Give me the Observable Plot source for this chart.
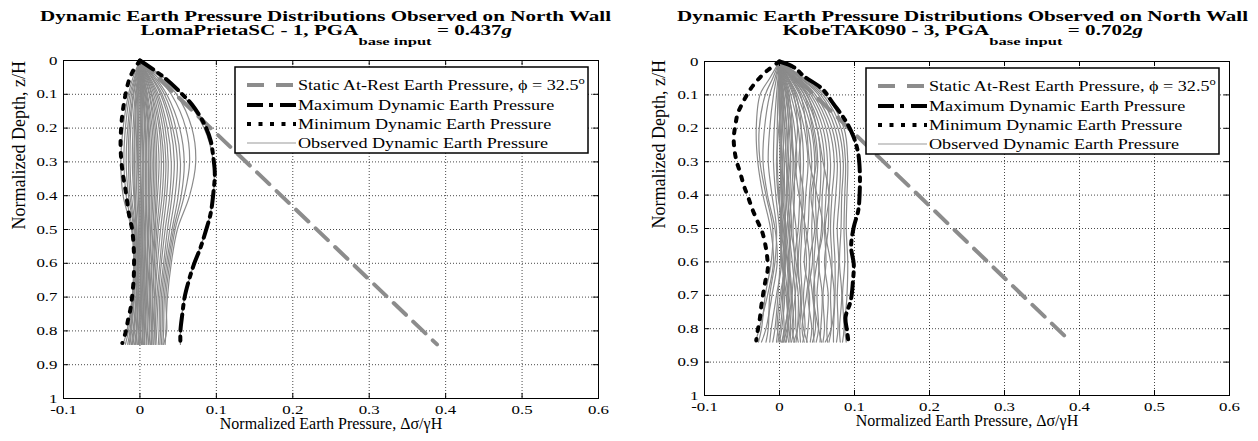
<!DOCTYPE html>
<html><head><meta charset="utf-8">
<script src="https://cdn.jsdelivr.net/npm/d3@7"></script>
<script src="https://cdn.jsdelivr.net/npm/@observablehq/plot@0.6"></script>
<style>
html,body{margin:0;padding:0;background:#fff;}
#root{position:relative;width:1258px;height:441px;overflow:hidden;font-family:"Liberation Serif","Times New Roman",Times,serif;color:#000;}
#root svg, #root svg text{font-family:"Liberation Serif","Times New Roman",Times,serif !important;}
.panel{position:absolute;top:0;}
.title{position:relative;height:38px;}
.tline{position:absolute;white-space:nowrap;font-weight:bold;font-size:14px;line-height:14px;transform-origin:50% 50%;}
.sub{font-size:11px;vertical-align:-10px;}
.panel svg{display:block;}
</style></head><body><div id="root"></div><script>
// ---------- data ----------
const xTicks = [-0.1, 0, 0.1, 0.2, 0.3, 0.4, 0.5, 0.6];
const xTickLabels = ["-0.1", "0", "0.1", "0.2", "0.3", "0.4", "0.5", "0.6"];
const yTicks = [0, 0.1, 0.2, 0.3, 0.4, 0.5, 0.6, 0.7, 0.8, 0.9, 1];
const yTickLabels = ["0", "0.1", "0.2", "0.3", "0.4", "0.5", "0.6", "0.7", "0.8", "0.9", "1"];
const titleLine1 = "Dynamic Earth Pressure Distributions Observed on North Wall";
const records = ["LomaPrietaSC - 1", "KobeTAK090 - 3"];
const pgaValues = ["0.437", "0.702"];
const xAxisLabel = "Normalized Earth Pressure, Δσ/γH";
const yAxisLabel = "Normalized Depth, z/H";
const legendLabels = ["Static At-Rest Earth Pressure, ϕ = 32.5", "Maximum Dynamic Earth Pressure", "Minimum Dynamic Earth Pressure", "Observed Dynamic Earth Pressure"];

// depth levels at which observed profiles are read
const depthLevels = [0, 0.05, 0.1, 0.2, 0.3, 0.4, 0.5, 0.6, 0.7, 0.8, 0.84];

// static at-rest line (both panels)
const staticDepth = [0, 0.84];
const staticPressure = [0, 0.3887];

// ---- left panel (LomaPrietaSC - 1) ----
const leftObserved = [
  [0,-0.009,-0.015,-0.022,-0.025,-0.022,-0.011,-0.008,-0.010,-0.017,-0.022],
  [0,-0.007,-0.013,-0.019,-0.021,-0.018,-0.010,-0.008,-0.010,-0.015,-0.019],
  [0,-0.006,-0.011,-0.016,-0.018,-0.015,-0.008,-0.007,-0.009,-0.013,-0.016],
  [0,-0.005,-0.009,-0.014,-0.015,-0.013,-0.007,-0.006,-0.008,-0.012,-0.014],
  [0,-0.004,-0.008,-0.012,-0.013,-0.011,-0.006,-0.005,-0.007,-0.011,-0.013],
  [0,-0.003,-0.006,-0.009,-0.010,-0.008,-0.005,-0.004,-0.005,-0.009,-0.011],
  [0,-0.002,-0.005,-0.007,-0.008,-0.007,-0.004,-0.003,-0.005,-0.008,-0.010],
  [0,-0.002,-0.004,-0.006,-0.007,-0.006,-0.004,-0.003,-0.004,-0.007,-0.009],
  [0,-0.001,-0.003,-0.004,-0.005,-0.004,-0.002,-0.002,-0.003,-0.005,-0.007],
  [0,-0.001,-0.002,-0.003,-0.003,-0.002,-0.001,-0.001,-0.002,-0.004,-0.006],
  [0,-0.001,-0.001,-0.002,-0.002,-0.001,0.000,-0.001,-0.002,-0.004,-0.005],
  [0,0.000,0.000,0.000,0.000,0.001,0.001,0.001,0.000,-0.002,-0.003],
  [0,0.000,0.001,0.001,0.001,0.002,0.002,0.001,0.000,-0.001,-0.002],
  [0,0.001,0.001,0.002,0.003,0.003,0.003,0.002,0.001,0.000,-0.001],
  [0,0.001,0.002,0.003,0.004,0.004,0.004,0.003,0.002,0.001,0.000],
  [0,0.001,0.003,0.004,0.005,0.005,0.004,0.004,0.003,0.001,0.000],
  [0,0.002,0.004,0.006,0.007,0.007,0.006,0.005,0.004,0.003,0.002],
  [0,0.002,0.004,0.007,0.008,0.008,0.007,0.006,0.005,0.004,0.003],
  [0,0.003,0.005,0.008,0.009,0.009,0.008,0.007,0.006,0.004,0.003],
  [0,0.003,0.006,0.010,0.011,0.011,0.010,0.009,0.007,0.006,0.005],
  [0,0.004,0.007,0.011,0.012,0.012,0.011,0.009,0.008,0.006,0.005],
  [0,0.004,0.008,0.012,0.014,0.013,0.012,0.010,0.009,0.007,0.006],
  [0,0.005,0.009,0.014,0.016,0.015,0.014,0.012,0.010,0.009,0.008],
  [0,0.005,0.010,0.016,0.018,0.017,0.015,0.013,0.012,0.010,0.009],
  [0,0.006,0.012,0.018,0.020,0.019,0.017,0.015,0.013,0.012,0.011],
  [0,0.007,0.013,0.020,0.022,0.021,0.019,0.016,0.014,0.013,0.012],
  [0,0.008,0.015,0.022,0.025,0.023,0.020,0.018,0.016,0.015,0.014],
  [0,0.009,0.016,0.025,0.028,0.026,0.022,0.019,0.017,0.016,0.015],
  [0,0.010,0.018,0.027,0.031,0.029,0.024,0.021,0.019,0.017,0.017],
  [0,0.011,0.020,0.030,0.034,0.032,0.027,0.023,0.020,0.019,0.018],
  [0,0.012,0.022,0.033,0.037,0.035,0.030,0.026,0.022,0.020,0.020],
  [0,0.013,0.024,0.036,0.041,0.039,0.033,0.028,0.024,0.022,0.021],
  [0,0.015,0.027,0.040,0.045,0.042,0.036,0.031,0.026,0.025,0.024],
  [0,0.016,0.029,0.043,0.049,0.046,0.039,0.033,0.028,0.027,0.026],
  [0,0.018,0.032,0.047,0.053,0.050,0.042,0.035,0.030,0.029,0.028],
  [0,0.020,0.035,0.052,0.058,0.054,0.044,0.037,0.032,0.031,0.030],
  [0,0.023,0.041,0.060,0.065,0.058,0.046,0.039,0.034,0.035,0.031],
  [0,0.027,0.048,0.068,0.073,0.065,0.049,0.041,0.036,0.034,0.033],
  [0,0.031,0.055,0.084,0.096,0.096,0.087,0.071,0.0585,0.053,0.053]
];
const leftMaxDepth = [0,0.049,0.099,0.133,0.187,0.237,0.286,0.335,0.394,0.453,0.498,0.552,0.601,0.651,0.70,0.75,0.80,0.84];
const leftMaxPressure = [0,0.031,0.055,0.069,0.084,0.0925,0.096,0.098,0.096,0.0925,0.087,0.0795,0.071,0.064,0.0585,0.0555,0.053,0.053];
const leftMinDepth = [0,0.035,0.069,0.128,0.182,0.256,0.325,0.385,0.454,0.503,0.572,0.621,0.66,0.73,0.769,0.804,0.836];
const leftMinPressure = [0,-0.010,-0.0157,-0.021,-0.024,-0.0253,-0.023,-0.0187,-0.0144,-0.010,-0.0078,-0.0078,-0.0086,-0.012,-0.0157,-0.0187,-0.023];

// ---- right panel (KobeTAK090 - 3) ----
const rightObserved = [
  [0,-0.013,-0.026,-0.031,-0.029,-0.022,-0.012,-0.008,-0.016,-0.027,-0.032],
  [0,-0.009,-0.019,-0.027,-0.026,-0.018,-0.009,-0.011,-0.019,-0.024,-0.028],
  [0,-0.006,-0.013,-0.020,-0.022,-0.016,-0.006,-0.003,-0.010,-0.018,-0.024],
  [0,-0.004,-0.008,-0.013,-0.015,-0.010,-0.004,-0.006,-0.013,-0.015,-0.018],
  [0,-0.002,-0.004,-0.007,-0.008,-0.005,0.000,0.003,-0.004,-0.011,-0.013],
  [0,-0.001,-0.002,-0.003,-0.003,-0.001,0.003,0.001,-0.002,-0.006,-0.009],
  [0,0.000,0.000,0.000,0.001,0.002,0.004,0.006,0.003,-0.002,-0.004],
  [0,0.001,0.001,0.002,0.003,0.005,0.002,0.004,0.007,0.003,0.000],
  [0,0.001,0.002,0.004,0.006,0.007,0.008,0.006,0.004,0.006,0.003],
  [0,0.002,0.004,0.007,0.009,0.010,0.006,0.010,0.012,0.008,0.006],
  [0,0.003,0.006,0.010,0.012,0.009,0.012,0.014,0.010,0.012,0.009],
  [0,0.004,0.008,0.013,0.015,0.014,0.016,0.012,0.016,0.014,0.012],
  [0,0.005,0.010,0.016,0.019,0.020,0.018,0.020,0.017,0.019,0.016],
  [0,0.006,0.012,0.020,0.023,0.018,0.022,0.024,0.021,0.017,0.020],
  [0,0.008,0.015,0.025,0.028,0.027,0.025,0.020,0.025,0.024,0.022],
  [0,0.009,0.018,0.029,0.032,0.030,0.030,0.028,0.030,0.027,0.028],
  [0,0.011,0.021,0.033,0.038,0.035,0.033,0.036,0.032,0.034,0.031],
  [0,0.012,0.024,0.038,0.043,0.040,0.038,0.033,0.040,0.038,0.036],
  [0,0.014,0.027,0.042,0.047,0.045,0.043,0.044,0.038,0.043,0.041],
  [0,0.016,0.030,0.046,0.051,0.048,0.049,0.046,0.047,0.045,0.046],
  [0,0.017,0.033,0.050,0.055,0.054,0.050,0.053,0.050,0.052,0.049],
  [0,0.019,0.036,0.054,0.060,0.057,0.056,0.052,0.057,0.055,0.054],
  [0,0.021,0.039,0.058,0.064,0.062,0.060,0.062,0.058,0.060,0.058],
  [0,0.022,0.042,0.062,0.068,0.066,0.065,0.060,0.065,0.063,0.064],
  [0,0.024,0.045,0.066,0.073,0.070,0.068,0.070,0.068,0.069,0.066],
  [0,0.026,0.048,0.070,0.077,0.075,0.072,0.074,0.074,0.072,0.072],
  [0,0.028,0.052,0.074,0.081,0.080,0.077,0.079,0.077,0.078,0.076],
  [0,0.029,0.055,0.078,0.085,0.083,0.082,0.080,0.083,0.080,0.081],
  [0,0.031,0.058,0.082,0.088,0.087,0.086,0.087,0.084,0.086,0.084],
  [0,0.033,0.061,0.086,0.091,0.090,0.089,0.091,0.090,0.087,0.089],
  [0,0.003,0.005,0.003,0.001,0.004,0.009,0.013,0.016,0.010,0.005],
  [0,0.002,0.003,-0.001,-0.004,-0.002,0.005,0.008,0.001,-0.003,0.002],
  [0,0.007,0.013,0.017,0.014,0.011,0.015,0.022,0.028,0.024,0.019],
  [0,0.010,0.019,0.024,0.021,0.026,0.035,0.040,0.036,0.030,0.033],
  [0,0.015,0.028,0.036,0.040,0.050,0.058,0.050,0.045,0.052,0.056],
  [0,0.020,0.037,0.050,0.058,0.066,0.061,0.068,0.073,0.069,0.061],
  [0,0.001,0.003,0.006,0.004,0.000,0.002,0.007,0.005,0.001,-0.002],
  [0,0.002,0.005,0.009,0.007,0.004,0.001,0.003,0.009,0.011,0.008],
  [0,0.004,0.009,0.012,0.010,0.013,0.010,0.007,0.011,0.015,0.014],
  [0,0.000,-0.001,0.001,0.004,0.003,0.007,0.011,0.014,0.007,0.004],
  [0,0.006,0.011,0.015,0.018,0.016,0.013,0.017,0.021,0.022,0.025],
  [0,0.012,0.022,0.029,0.026,0.032,0.028,0.025,0.028,0.032,0.037],
  [0,0.018,0.033,0.044,0.049,0.042,0.047,0.040,0.044,0.048,0.044]
];
const rightMaxDepth = [0,0.017,0.045,0.082,0.127,0.177,0.227,0.276,0.326,0.386,0.446,0.496,0.556,0.606,0.656,0.716,0.766,0.805,0.84];
const rightMaxPressure = [0,0.019,0.033,0.057,0.072,0.088,0.099,0.105,0.107,0.107,0.105,0.099,0.0955,0.099,0.098,0.095,0.088,0.090,0.092];
const rightMinDepth = [0,0.029,0.055,0.087,0.119,0.155,0.189,0.229,0.265,0.298,0.336,0.371,0.406,0.441,0.476,0.511,0.551,0.586,0.621,0.656,0.696,0.736,0.771,0.805,0.835];
const rightMinPressure = [0,-0.0173,-0.029,-0.040,-0.048,-0.0556,-0.0587,-0.061,-0.060,-0.0573,-0.052,-0.0476,-0.0418,-0.0364,-0.0298,-0.023,-0.0187,-0.0164,-0.0156,-0.0187,-0.0218,-0.0245,-0.0263,-0.029,-0.031];

// ---------- drawing ----------
const root = document.getElementById("root");
const FONT = '"Liberation Serif","Times New Roman",Times,serif';

function panel(cfg) {
  const div = document.createElement("div");
  div.className = "panel";
  div.style.left = cfg.left + "px";
  div.style.width = cfg.width + "px";
  root.appendChild(div);

  // title (two lines, above the svg)
  const title = document.createElement("div");
  title.className = "title";
  div.appendChild(title);
  const l1 = document.createElement("div");
  l1.className = "tline"; l1.textContent = titleLine1; l1.style.top = "10px";
  const l2 = document.createElement("div");
  l2.className = "tline"; l2.style.top = "23.5px";
  l2.innerHTML = `${cfg.record}, PGA<span class="sub">base input</span> = ${cfg.pga}<i>g</i>`;
  title.append(l1, l2);
  const ts = 571 / l1.getBoundingClientRect().width;
  for (const l of [l1, l2]) {
    const w = l.getBoundingClientRect().width;
    l.style.left = (cfg.titleCx - cfg.left - w / 2) + "px";
    l.style.transform = `scaleX(${ts})`;
  }

  const obsData = cfg.observed.flatMap((xs, k) => xs.map((x, j) => ({curve: k, x, z: depthLevels[j]})));
  const staticData = staticDepth.map((z, i) => ({z, x: staticPressure[i]}));
  const maxData = cfg.maxZ.map((z, i) => ({z, x: cfg.maxX[i]}));
  const minData = cfg.minZ.map((z, i) => ({z, x: cfg.minX[i]}));

  const svg = Plot.plot({
    width: cfg.width, height: 403,
    marginLeft: cfg.mL, marginRight: cfg.mR, marginTop: cfg.mT, marginBottom: cfg.mB,
    x: {domain: [-0.1, 0.6]},
    y: {domain: [0, 1], reverse: true},
    style: {fontFamily: FONT, fontSize: "12px", color: "#000", background: "transparent", overflow: "visible"},
    marks: [
      Plot.gridX(xTicks, {stroke: "#000", strokeOpacity: 0.9, strokeWidth: 0.8, strokeDasharray: "1,2"}),
      Plot.gridY(yTicks, {stroke: "#000", strokeOpacity: 0.9, strokeWidth: 0.8, strokeDasharray: "1,2"}),
      Plot.line(obsData, {x: "x", y: "z", z: "curve", stroke: "#8a8a8a", strokeWidth: 1.2, curve: "catmull-rom"}),
      Plot.line(staticData, {x: "x", y: "z", stroke: "#8c8c8c", strokeWidth: 4, strokeDasharray: "17,10"}),
      Plot.line(maxData, {x: "x", y: "z", stroke: "#000", strokeWidth: 4, strokeDasharray: "16,6,4,6", curve: "catmull-rom"}),
      Plot.line(minData, {x: "x", y: "z", stroke: "#000", strokeWidth: 4, strokeDasharray: "4,8", curve: "catmull-rom"}),
      Plot.ruleX(xTicks, {y1: 1, y2: 0.985, stroke: "#000"}),
      Plot.ruleX(xTicks, {y1: 0, y2: 0.015, stroke: "#000"}),
      Plot.ruleY(yTicks, {x1: -0.1, x2: -0.093, stroke: "#000"}),
      Plot.ruleY(yTicks, {x1: 0.6, x2: 0.593, stroke: "#000"}),
      Plot.frame({stroke: "#000", strokeWidth: 1}),
      Plot.axisX(xTicks, {tickSize: 0, tickPadding: 7, tickFormat: d => xTickLabels[xTicks.indexOf(d)], label: null, fontSize: 12.5, fontFamily: FONT}),
      Plot.axisY(yTicks, {tickSize: 0, tickPadding: 6, tickFormat: d => yTickLabels[yTicks.indexOf(d)], label: null, fontSize: 12.5, fontFamily: FONT}),
      Plot.text([xAxisLabel], {text: d => d, frameAnchor: "bottom", dy: 30, fontSize: 16, fontFamily: FONT, ariaLabel: "xlabel"}),
      Plot.text([yAxisLabel], {text: d => d, frameAnchor: "left", dx: cfg.ylabDx, rotate: -90, fontSize: 18, fontFamily: FONT, ariaLabel: "ylabel"})
    ]
  });
  div.appendChild(svg);

  const addScale = (t, s) => t.setAttribute("transform", (t.getAttribute("transform") || "") + ` scale(${s},1)`);
  svg.querySelectorAll('g[aria-label="x-axis tick label"] text, g[aria-label="y-axis tick label"] text').forEach(t => addScale(t, 1.35));
  const fit = (sel, target) => svg.querySelectorAll(sel).forEach(t => addScale(t, target / t.getBBox().width));
  fit('g[aria-label="xlabel"] text', 275);
  fit('g[aria-label="ylabel"] text', 182);

  // legend box inside the upper right corner
  const bw = 353, bh = 86;
  const x0 = cfg.width - cfg.mR - 10 - bw, y0 = cfg.mT + 7;
  const g = d3.select(svg).append("g").attr("aria-label", "legend").attr("text-anchor", "start");
  g.append("rect").attr("x", x0).attr("y", y0).attr("width", bw).attr("height", bh)
    .attr("fill", "#fff").attr("stroke", "#000").attr("stroke-width", 1.5);
  const rowY = [18, 38, 57, 76];
  const sty = [
    {stroke: "#8c8c8c", w: 4, dash: "17,12"},
    {stroke: "#000", w: 4, dash: "16,6,4,7"},
    {stroke: "#000", w: 4, dash: "4,7.5"},
    {stroke: "#9a9a9a", w: 1.2, dash: null}
  ];
  const texts = [];
  legendLabels.forEach((lab, i) => {
    const y = y0 + rowY[i];
    g.append("line").attr("x1", x0 + 12).attr("x2", x0 + 61).attr("y1", y).attr("y2", y)
      .attr("stroke", sty[i].stroke).attr("stroke-width", sty[i].w).attr("stroke-dasharray", sty[i].dash);
    const t = g.append("text").attr("transform", `translate(${x0 + 63},${y + 5})`)
      .attr("text-anchor", "start").attr("font-size", 14.5).attr("fill", "#000");
    t.append("tspan").text(lab);
    if (i === 0) t.append("tspan").attr("font-size", 10).attr("dy", -6).text("o");
    texts.push(t.node());
  });
  const ls = 287 / texts[0].getBBox().width;
  texts.forEach(t => addScale(t, ls));
}

panel({left: 0, width: 620, mL: 63, mR: 22, mT: 22, mB: 43, titleCx: 326, ylabDx: -44,
  record: records[0], pga: pgaValues[0], observed: leftObserved,
  maxZ: leftMaxDepth, maxX: leftMaxPressure, minZ: leftMinDepth, minX: leftMinPressure});
panel({left: 630, width: 628, mL: 74, mR: 29, mT: 23, mB: 46, titleCx: 963, ylabDx: -45,
  record: records[1], pga: pgaValues[1], observed: rightObserved,
  maxZ: rightMaxDepth, maxX: rightMaxPressure, minZ: rightMinDepth, minX: rightMinPressure});
</script></body></html>
